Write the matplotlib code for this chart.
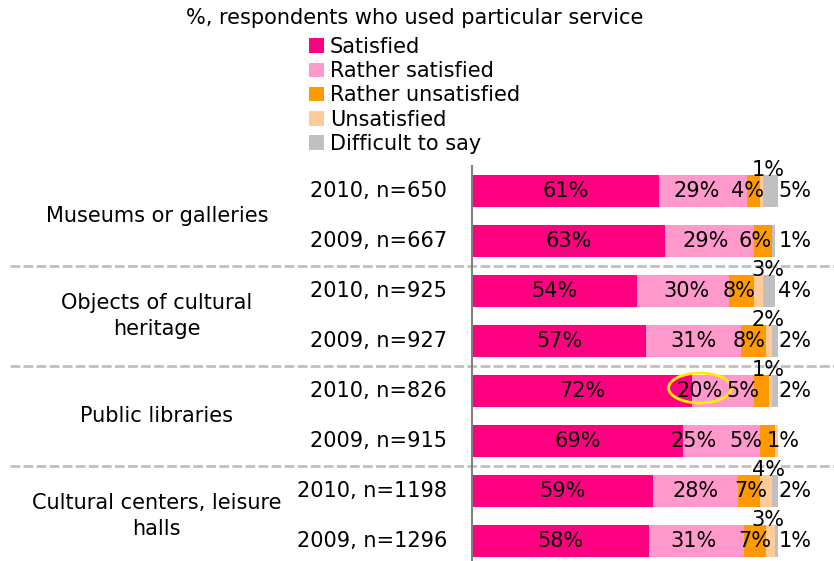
import matplotlib.pyplot as plt
from matplotlib.patches import Ellipse

plt.rcParams['font.family'] = 'DejaVu Sans'
plt.rcParams['font.size'] = 15

series = ['Satisfied', 'Rather satisfied', 'Rather unsatisfied', 'Unsatisfied', 'Difficult to say']
colors = ['#ff0080', '#ff99cc', '#ff9900', '#ffcc99', '#c0c0c0']

groups = ['Museums or galleries', 'Objects of cultural\nheritage',
          'Public libraries', 'Cultural centers, leisure\nhalls']
rows = ['2010, n=650', '2009, n=667', '2010, n=925', '2009, n=927',
        '2010, n=826', '2009, n=915', '2010, n=1198', '2009, n=1296']

satisfied = [61, 63, 54, 57, 72, 69, 59, 58]
rather_sat = [29, 29, 30, 31, 20, 25, 28, 31]
rather_unsat = [4, 6, 8, 8, 5, 5, 7, 7]
unsatisfied = [1, 0, 3, 2, 1, 1, 4, 3]
difficult = [5, 1, 4, 2, 2, 0.4, 2, 1]

data = [satisfied, rather_sat, rather_unsat, unsatisfied, difficult]

# manual label nudges (in % units) so labels don't collide
nudge_rs = [-2, -1, 1, 0, -7.5, -9, 0, -1]
nudge_ru = [-2, -2.5, -0.7, -1.5, -6, -7, 0.5, 0]
marked_row = 4  # circled value

fig = plt.figure(figsize=(8.34, 5.61), dpi=100)
ax = fig.add_axes([472 / 834, 0, 306 / 834, 395 / 561])

y = list(range(len(rows)))
left = [0] * len(rows)
for name, vals, c in zip(series, data, colors):
    ax.barh(y, vals, left=left, height=0.64, color=c, label=name)
    for i, v in enumerate(vals):
        mid = left[i] + v / 2
        end = left[i] + v
        if name == 'Satisfied':
            ax.text(mid, i, f'{v}%', ha='center', va='center')
        elif name == 'Rather satisfied':
            ax.text(mid + nudge_rs[i], i, f'{v}%', ha='center', va='center')
            if i == marked_row:
                ax.add_patch(Ellipse((mid + nudge_rs[i], i - 0.06), 20.5, 0.6,
                                     fill=False, ec='#ffee00', lw=2, clip_on=False))
        elif name == 'Rather unsatisfied':
            ax.text(mid + nudge_ru[i], i, f'{v}%', ha='center', va='center')
        elif name == 'Unsatisfied' and v >= 1:
            if difficult[i] >= 1:
                ax.text(96.8, i - 0.42, f'{v}%', ha='center', va='center')
            else:
                ax.text(end + 1.8, i, f'{v}%', ha='center', va='center')
        elif name == 'Difficult to say' and v >= 1:
            ax.text(105.5, i, f'{v}%', ha='center', va='center')
    left = [l + v for l, v in zip(left, vals)]

# year / sample size labels and group names
for i, r in enumerate(rows):
    ax.text(-8.2, i, r, ha='right', va='center')
for g, name in enumerate(groups):
    ax.text(-103, 2 * g + 0.5, name, ha='center', va='center', linespacing=1.35)

# dashed separators between groups
for s in (1.5, 3.5, 5.5):
    ax.plot([-151, 120], [s, s], color='#c0c0c0', lw=2, ls=(0, (3.5, 1.2)),
            clip_on=False)

ax.set_xlim(0, 100)
ax.set_ylim(7.4, -0.5)
ax.set_xticks([])
ax.set_yticks([])
for sp in ('top', 'right', 'bottom'):
    ax.spines[sp].set_visible(False)
ax.spines['left'].set_color('#808080')
ax.spines['left'].set_linewidth(1.5)

fig.text(415 / 834, 1 - 18 / 561, '%, respondents who used particular service',
         ha='center', va='center')
fig.legend(loc='upper left', bbox_to_anchor=(309 / 834, 1 - 37 / 561),
           frameon=False, handlelength=0.7, handleheight=0.7,
           handletextpad=0.3, labelspacing=0.2, borderpad=0, borderaxespad=0)

fig.savefig('out.png', dpi=100)
